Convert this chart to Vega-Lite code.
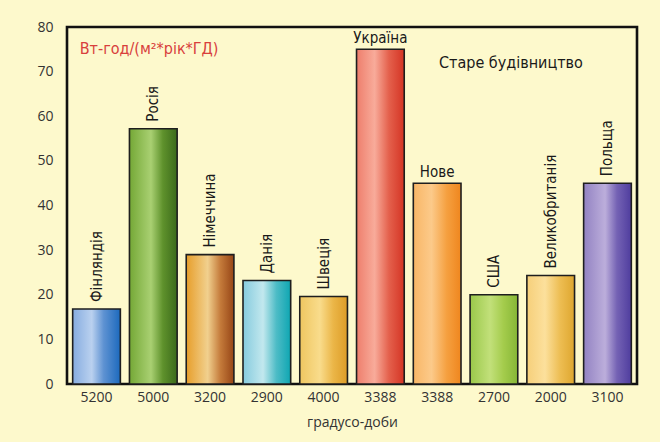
{
  "$schema": "https://vega.github.io/schema/vega-lite/v6.json",
  "width": 570,
  "height": 357,
  "autosize": {"type": "none"},
  "padding": {"left": 67, "top": 27, "right": 23, "bottom": 58},
  "background": "#fdf9cc",
  "config": {
    "view": {"stroke": "#111111", "strokeWidth": 2.6, "fill": "#fdf9cc"},
    "font": "Open Sans"
  },
  "data": {
    "values": [
      {"i": 1, "country": "Фінляндія", "hdd": "5200", "value": 16.8},
      {"i": 2, "country": "Росія", "hdd": "5000", "value": 57.2},
      {"i": 3, "country": "Німеччина", "hdd": "3200", "value": 29},
      {"i": 4, "country": "Данія", "hdd": "2900", "value": 23.2},
      {"i": 5, "country": "Швеція", "hdd": "4000", "value": 19.6},
      {"i": 6, "country": "Україна", "hdd": "3388", "value": 75},
      {"i": 7, "country": "Нове", "hdd": "3388", "value": 45},
      {"i": 8, "country": "США", "hdd": "2700", "value": 20},
      {"i": 9, "country": "Великобританія", "hdd": "2000", "value": 24.3},
      {"i": 10, "country": "Польща", "hdd": "3100", "value": 45}
    ]
  },
  "encoding": {
    "x": {
      "field": "country",
      "type": "nominal",
      "scale": {
        "domain": ["Фінляндія", "Росія", "Німеччина", "Данія", "Швеція", "Україна", "Нове", "США", "Великобританія", "Польща"],
        "paddingInner": 0.16,
        "paddingOuter": 0.1
      },
      "axis": {
        "labels": false,
        "ticks": false,
        "domain": false,
        "title": "градусо-доби",
        "titleFont": "Open Sans",
        "titleFontSize": 14,
        "titleFontWeight": "normal",
        "titleColor": "#333333",
        "titlePadding": 31
      }
    }
  },
  "layer": [
    {
      "mark": {"type": "bar", "stroke": "#1e1e1e", "strokeWidth": 1.6},
      "encoding": {
        "y": {
          "field": "value",
          "type": "quantitative",
          "scale": {"domain": [0, 80], "nice": false},
          "axis": {
            "values": [0, 10, 20, 30, 40, 50, 60, 70, 80],
            "grid": false,
            "ticks": false,
            "tickSize": 0,
            "domain": false,
            "title": null,
            "labelFont": "Open Sans",
            "labelFontSize": 14,
            "labelColor": "#333333",
            "labelPadding": 14
          }
        },
        "color": {
          "condition": [
            {"test": "datum.country === 'Фінляндія'", "value": {"gradient": "linear", "x1": 0, "y1": 0, "x2": 1, "y2": 0, "stops": [
              {"offset": 0, "color": "#86ace0"}, {"offset": 0.4, "color": "#bad1ef"}, {"offset": 0.65, "color": "#5e92d2"}, {"offset": 1, "color": "#1c69bd"}]}},
            {"test": "datum.country === 'Росія'", "value": {"gradient": "linear", "x1": 0, "y1": 0, "x2": 1, "y2": 0, "stops": [
              {"offset": 0, "color": "#74a836"}, {"offset": 0.45, "color": "#a9d072"}, {"offset": 0.7, "color": "#5f922c"}, {"offset": 1, "color": "#3b6a1a"}]}},
            {"test": "datum.country === 'Німеччина'", "value": {"gradient": "linear", "x1": 0, "y1": 0, "x2": 1, "y2": 0, "stops": [
              {"offset": 0, "color": "#e79e2a"}, {"offset": 0.45, "color": "#f1d08e"}, {"offset": 0.72, "color": "#c47a3a"}, {"offset": 1, "color": "#964516"}]}},
            {"test": "datum.country === 'Данія'", "value": {"gradient": "linear", "x1": 0, "y1": 0, "x2": 1, "y2": 0, "stops": [
              {"offset": 0, "color": "#86cbde"}, {"offset": 0.42, "color": "#c2e8ee"}, {"offset": 0.7, "color": "#4dbcc6"}, {"offset": 1, "color": "#0ea6b2"}]}},
            {"test": "datum.country === 'Швеція'", "value": {"gradient": "linear", "x1": 0, "y1": 0, "x2": 1, "y2": 0, "stops": [
              {"offset": 0, "color": "#efc660"}, {"offset": 0.42, "color": "#f9dc8c"}, {"offset": 0.7, "color": "#ebb648"}, {"offset": 1, "color": "#dd9c26"}]}},
            {"test": "datum.country === 'Україна'", "value": {"gradient": "linear", "x1": 0, "y1": 0, "x2": 1, "y2": 0, "stops": [
              {"offset": 0, "color": "#ee7e6c"}, {"offset": 0.38, "color": "#f8ab9a"}, {"offset": 0.68, "color": "#e4604c"}, {"offset": 1, "color": "#d43424"}]}},
            {"test": "datum.country === 'Нове'", "value": {"gradient": "linear", "x1": 0, "y1": 0, "x2": 1, "y2": 0, "stops": [
              {"offset": 0, "color": "#f8b666"}, {"offset": 0.38, "color": "#fcca8a"}, {"offset": 0.7, "color": "#f5a040"}, {"offset": 1, "color": "#ef861e"}]}},
            {"test": "datum.country === 'США'", "value": {"gradient": "linear", "x1": 0, "y1": 0, "x2": 1, "y2": 0, "stops": [
              {"offset": 0, "color": "#9ac84a"}, {"offset": 0.42, "color": "#c2e07a"}, {"offset": 0.7, "color": "#a4cc4c"}, {"offset": 1, "color": "#86b636"}]}},
            {"test": "datum.country === 'Великобританія'", "value": {"gradient": "linear", "x1": 0, "y1": 0, "x2": 1, "y2": 0, "stops": [
              {"offset": 0, "color": "#f6cf7a"}, {"offset": 0.38, "color": "#fce09c"}, {"offset": 0.7, "color": "#edbd52"}, {"offset": 1, "color": "#dea62e"}]}}
          ],
          "value": {"gradient": "linear", "x1": 0, "y1": 0, "x2": 1, "y2": 0, "stops": [
            {"offset": 0, "color": "#9282c2"}, {"offset": 0.45, "color": "#bcaedb"}, {"offset": 0.7, "color": "#7462b4"}, {"offset": 1, "color": "#4f3d9e"}]}
        }
      }
    },
    {
      "transform": [{"filter": {"not": {"field": "country", "oneOf": ["Україна", "Нове"]}}}],
      "mark": {
        "type": "text",
        "angle": 270,
        "align": "left",
        "baseline": "middle",
        "dx": 7,
        "font": "DejaVu Sans Condensed, Liberation Sans, sans-serif",
        "fontSize": 15,
        "color": "#1a1a1a"
      },
      "encoding": {
        "y": {"field": "value", "type": "quantitative"},
        "text": {"field": "country"}
      }
    },
    {
      "transform": [{"filter": {"field": "country", "oneOf": ["Україна", "Нове"]}}],
      "mark": {
        "type": "text",
        "align": "center",
        "baseline": "bottom",
        "dy": -3,
        "font": "DejaVu Sans Condensed, Liberation Sans, sans-serif",
        "fontSize": 15,
        "color": "#1a1a1a"
      },
      "encoding": {
        "y": {"field": "value", "type": "quantitative"},
        "text": {"field": "country"}
      }
    },
    {
      "mark": {
        "type": "text",
        "align": "center",
        "baseline": "top",
        "dy": 7,
        "font": "Open Sans",
        "fontSize": 14,
        "color": "#333333"
      },
      "encoding": {
        "y": {"datum": 0, "type": "quantitative"},
        "text": {"field": "hdd"}
      }
    },
    {
      "data": {"values": [{"note": "Вт-год/(м²*рік*ГД)", "at": "Фінляндія", "level": 75}]},
      "mark": {
        "type": "text",
        "align": "left",
        "baseline": "middle",
        "dx": 7,
        "font": "DejaVu Sans Condensed, Liberation Sans, sans-serif",
        "fontSize": 16,
        "color": "#d8403c"
      },
      "encoding": {
        "x": {"field": "at", "type": "nominal", "bandPosition": 0},
        "y": {"field": "level", "type": "quantitative"},
        "text": {"field": "note"}
      }
    },
    {
      "data": {"values": [{"note": "Старе будівництво", "at": "США", "level": 72}]},
      "mark": {
        "type": "text",
        "align": "center",
        "baseline": "middle",
        "dx": 17,
        "font": "DejaVu Sans Condensed, Liberation Sans, sans-serif",
        "fontSize": 16,
        "color": "#1a1a1a"
      },
      "encoding": {
        "x": {"field": "at", "type": "nominal"},
        "y": {"field": "level", "type": "quantitative"},
        "text": {"field": "note"}
      }
    }
  ]
}
